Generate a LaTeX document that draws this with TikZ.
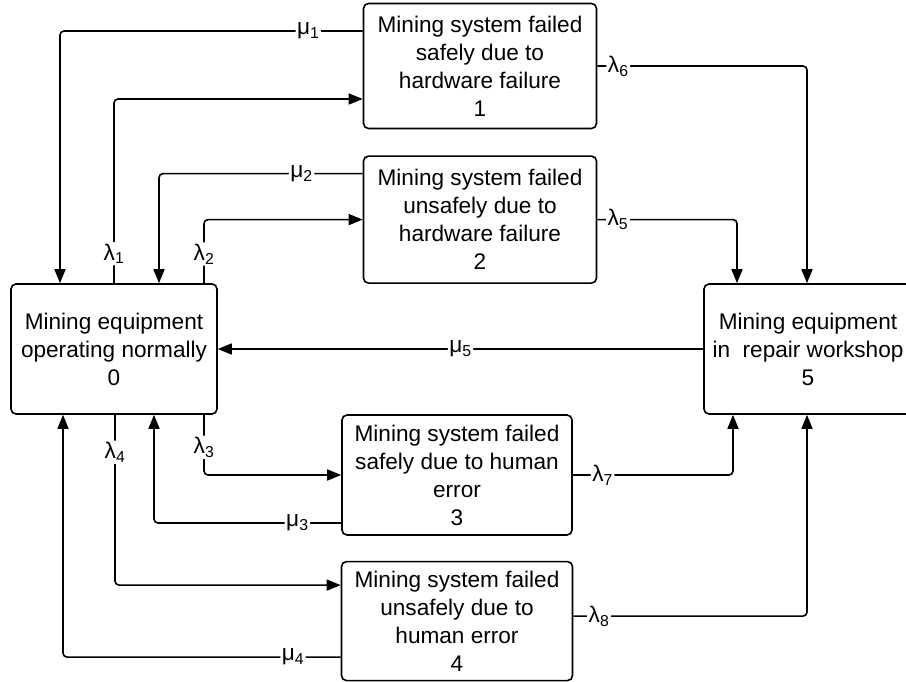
\documentclass[tikz,border=0pt]{standalone}
\usepackage{fontspec}
\setmainfont{Liberation Sans}
\usetikzlibrary{arrows.meta,positioning}

\begin{document}
\begin{tikzpicture}[x=1pt,y=-1pt,node distance=25pt]
\tikzstyle{S}=[draw,line width=1.6pt,rounded corners=5pt,align=center,
inner sep=1pt,font=\fontsize{22.6}{28}\selectfont]
\tikzstyle{A}=[-{Triangle[length=14pt,width=11pt]},line width=1.6pt,rounded corners=4pt]
\tikzstyle{L}=[fill=white,inner sep=1.5pt,font=\fontsize{22.6}{24}\selectfont]
\useasboundingbox (0,0) rectangle (906,682);
\clip (0,0) rectangle (906,682);
% states
\node[S,minimum width=206pt,minimum height=130pt](s0) at (114,349){Mining equipment\\operating normally\\0};
\node[S,minimum width=233pt,minimum height=125pt](s1) at (480,66){Mining system failed\\safely due to\\hardware failure\\1};
\node[S,minimum width=233pt,minimum height=127pt,below=26pt of s1](s2){Mining system failed\\unsafely due to\\hardware failure\\2};
\node[S,minimum width=230pt,minimum height=120pt](s3) at (457,475){Mining system failed\\safely due to human\\error\\3};
\node[S,minimum width=231pt,minimum height=119pt,below=of s3](s4){Mining system failed\\unsafely due to\\human error\\4};
\node[S,minimum width=208pt,minimum height=130pt](s5) at (808,349){Mining equipment\\in\ \ repair workshop\\5};
% failures and repairs
\draw[A]([yshift=35pt]s1.west) -| node[L,pos=0.09]{μ\textsubscript{1}} ([xshift=-54pt]s0.north);
\draw[A]([xshift=0pt]s0.north) |- node[L,pos=0.08]{λ\textsubscript{1}} ([yshift=-33pt]s1.west);
\draw[A]([yshift=46pt]s2.west) -| node[L,pos=0.15]{μ\textsubscript{2}} ([xshift=45pt]s0.north);
\draw[A]([xshift=90pt]s0.north) |- node[L,pos=0.23]{λ\textsubscript{2}} (s2.west);
\draw[A](s1.east) -| node[L,pos=0.05]{λ\textsubscript{6}} ([xshift=-1pt]s5.north);
\draw[A](s2.east) -| node[L,pos=0.074]{λ\textsubscript{5}} ([xshift=-71pt]s5.north);
\draw[A](s5.west) -- node[L]{μ\textsubscript{5}} (s0.east);
\draw[A]([xshift=90pt]s0.south) |- node[L,pos=0.27]{λ\textsubscript{3}} (s3.west);
\draw[A]([yshift=-48pt]s3.west) -| node[L,pos=0.117]{μ\textsubscript{3}} ([xshift=40pt]s0.south);
\draw[A]([xshift=1pt]s0.south) |- node[L,pos=0.11]{λ\textsubscript{4}} ([yshift=36pt]s4.west);
\draw[A]([yshift=-36pt]s4.west) -| node[L,pos=0.086]{μ\textsubscript{4}} ([xshift=-51pt]s0.south);
\draw[A](s3.east) -| node[L,pos=0.093]{λ\textsubscript{7}} ([xshift=-75pt]s5.south);
\draw[A]([yshift=5pt]s4.east) -| node[L,pos=0.055]{λ\textsubscript{8}} ([xshift=-1pt]s5.south);
\end{tikzpicture}
\end{document}
